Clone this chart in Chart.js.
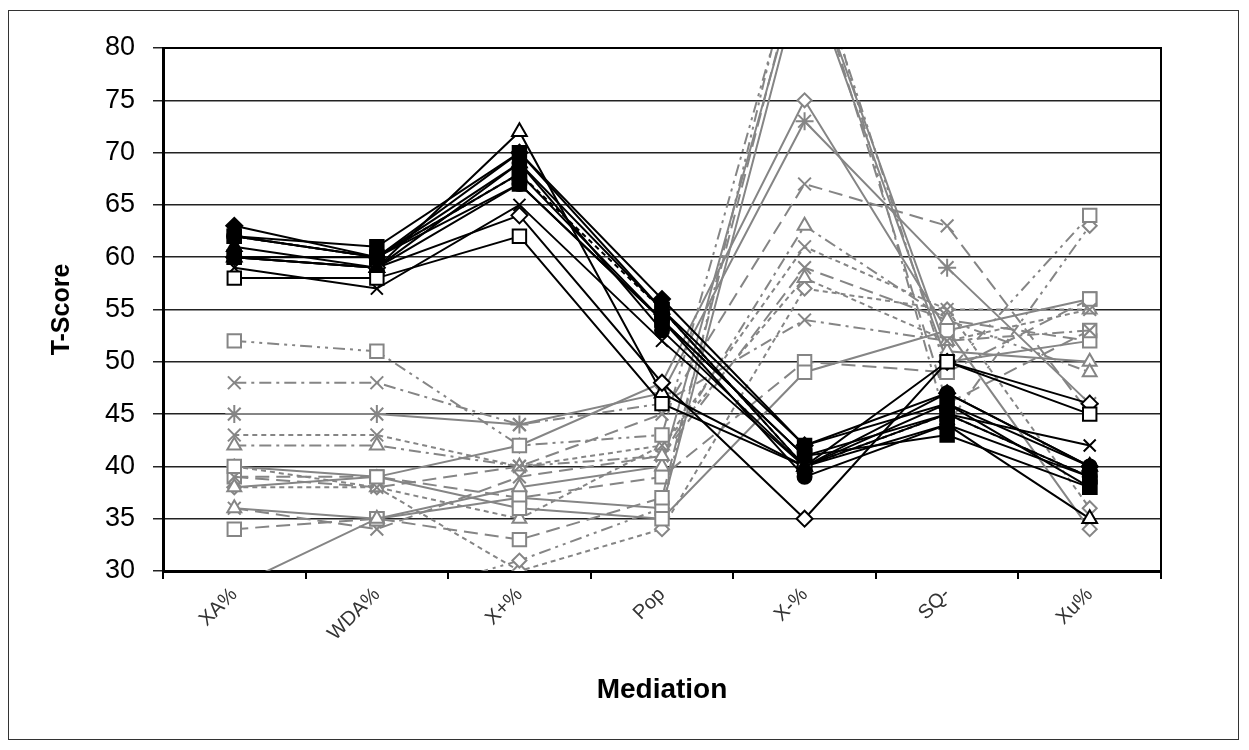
<!DOCTYPE html>
<html>
<head>
<meta charset="utf-8">
<script src="https://cdn.jsdelivr.net/npm/chart.js@4/dist/chart.umd.min.js"></script>
<style>
  body { margin: 0; background: #fff; }
  #wrap { width: 1249px; height: 750px; }
</style>
</head>
<body>
<div id="wrap"><canvas id="tChart" width="1249" height="750"></canvas></div>
<script>
const categories = ['XA%', 'WDA%', 'X+%', 'Pop', 'X-%', 'SQ-', 'Xu%'];
const yTicks = [30, 35, 40, 45, 50, 55, 60, 65, 70, 75, 80];

// black profiles
const b1 = [63, 60, 70, 56, 42, 47, 40];
const b2 = [62, 61, 70, 55, 42, 46, 38];
const b3 = [60, 60, 68, 54, 41, 45, 39];
const b4 = [61, 59, 69, 55, 40, 46, 40];
const b5 = [62, 60, 67, 54, 39, 44, 39];
const b6 = [58, 58, 62, 46, 40, 50, 45];
const b7 = [59, 57, 65, 52, 40, 45, 42];
const b8 = [60, 59, 64, 48, 35, 50, 46];
const b9 = [60, 59, 72, 47, 40, 44, 35];
const b10 = [62, 60, 68, 55, 40, 45, 39];
const b11 = [60, 59, 67, 54, 41, 43, 38];
const b12 = [62, 60, 69, 53, 40, 47, 40];

// grey profiles
const g1 = [52, 51, 42, 43, 91, 49, 64];
const g2 = [48, 48, 44, 46, 54, 52, 53];
const g3 = [45, 45, 44, 47, 73, 59, 46];
const g4 = [43, 43, 40, 42, 61, 55, 55];
const g5 = [42, 42, 40, 41, 63, 54, 49];
const g6 = [40, 39, 36, 35, 49, 53, 56];
const g7 = [39, 38, 40, 45, 67, 63, 45];
const g8 = [38, 38, 35, 42, 58, 52, 55];
const g9 = [36, 35, 38, 40, 89, 51, 50];
const g10 = [34, 35, 33, 37, 90, 46, 53];
const g11 = [28.5, 35, 37, 36, 88, 50, 52];
const g12 = [20, 27, 31, 36, 93, 44, 63];
const g13 = [40, 38, 30, 34, 57, 55, 36];
const g14 = [38, 39, 42, 48, 75, 53, 34];
const g15 = [39, 39, 37, 39, 50, 49, 56];
const g16 = [36, 34, 39, 41, 59, 54, 52];

const GREY = '#858585';
const dashes = {
  solid: [],
  short: [5, 4],
  long: [14, 7],
  dashDot: [12, 5, 3, 5],
  dashDotDot: [12, 5, 3, 5, 3, 5]
};

function blackSet(data, point, filled, dash) {
  return {
    data: data,
    borderColor: '#000',
    borderWidth: 2,
    borderDash: dashes[dash || 'solid'],
    pointStyle: point,
    pointRadius: point === 'rect' ? 9.5 : point === 'circle' ? 7 : point === 'rectRot' ? 8 : 8.5,
    pointBorderWidth: 2,
    pointBorderColor: '#000',
    pointBackgroundColor: filled ? '#000' : '#fff',
    tension: 0
  };
}

function greySet(data, point, dash) {
  return {
    data: data,
    borderColor: GREY,
    borderWidth: 2,
    borderDash: dashes[dash],
    pointStyle: point,
    pointRadius: point === 'rect' ? 9.5 : point === 'rectRot' ? 7 : point === 'triangle' ? 8 : 9,
    pointBorderWidth: 2,
    pointBorderColor: GREY,
    pointBackgroundColor: '#fff',
    tension: 0
  };
}

const datasets = [
  blackSet(b1, 'rectRot', true),
  blackSet(b2, 'rect', true),
  blackSet(b3, 'rect', true),
  blackSet(b4, 'triangle', true),
  blackSet(b5, 'circle', true),
  blackSet(b6, 'rect', false),
  blackSet(b7, 'crossRot', false),
  blackSet(b8, 'rectRot', false),
  blackSet(b9, 'triangle', false),
  blackSet(b10, 'rect', true, 'short'),
  blackSet(b11, 'rect', true),
  blackSet(b12, 'circle', true),
  greySet(g1, 'rect', 'dashDotDot'),
  greySet(g2, 'crossRot', 'dashDot'),
  greySet(g3, 'star', 'solid'),
  greySet(g4, 'crossRot', 'short'),
  greySet(g5, 'triangle', 'dashDot'),
  greySet(g6, 'rect', 'solid'),
  greySet(g7, 'crossRot', 'long'),
  greySet(g8, 'triangle', 'short'),
  greySet(g9, 'triangle', 'solid'),
  greySet(g10, 'rect', 'long'),
  greySet(g11, 'rect', 'solid'),
  greySet(g12, 'rectRot', 'dashDotDot'),
  greySet(g13, 'rectRot', 'short'),
  greySet(g14, 'rectRot', 'solid'),
  greySet(g15, 'rect', 'long'),
  greySet(g16, 'crossRot', 'long')
];

const frame = {
  id: 'frame',
  beforeDraw(chart) {
    const ctx = chart.ctx;
    ctx.save();
    ctx.fillStyle = '#fff';
    ctx.fillRect(0, 0, chart.width, chart.height);
    ctx.strokeStyle = '#333';
    ctx.lineWidth = 1;
    ctx.strokeRect(8.5, 10.5, 1230, 729);
    ctx.restore();
  },
  afterDatasetsDraw(chart) {
    const a = chart.chartArea;
    const ctx = chart.ctx;
    ctx.save();
    ctx.strokeStyle = '#000';
    ctx.lineWidth = 2;
    ctx.beginPath();
    ctx.moveTo(a.left, a.top);
    ctx.lineTo(a.right, a.top);
    ctx.lineTo(a.right, a.bottom);
    ctx.stroke();
    ctx.restore();
  }
};

new Chart(document.getElementById('tChart'), {
  type: 'line',
  data: { labels: categories, datasets: datasets },
  plugins: [frame],
  options: {
    responsive: false,
    animation: false,
    layout: { padding: { top: 48, right: 88, left: 0, bottom: 0 } },
    plugins: { legend: { display: false }, tooltip: { enabled: false } },
    scales: {
      x: {
        offset: true,
        afterFit(scale) { scale.height = 179; },
        grid: { offset: true, drawOnChartArea: false, drawTicks: true, tickLength: 8, color: '#000', lineWidth: 2 },
        border: { display: true, color: '#000', width: 3 },
        ticks: {
          minRotation: 45, maxRotation: 45, padding: 4,
          color: '#333',
          font: { family: 'Liberation Sans, Arial, sans-serif', size: 20 }
        },
        title: {
          display: true, text: 'Mediation', color: '#000',
          font: { family: 'Liberation Sans, Arial, sans-serif', size: 28, weight: 'bold' },
          padding: { top: 0, bottom: 43 }
        }
      },
      y: {
        min: 30, max: 80,
        afterFit(scale) { scale.width = 163; },
        afterBuildTicks(scale) { scale.ticks = yTicks.map(v => ({ value: v })); },
        grid: { color: '#222', lineWidth: 1.5, tickLength: 10, drawTicks: true },
        border: { display: true, color: '#000', width: 3 },
        ticks: {
          color: '#000', padding: 18,
          font: { family: 'Liberation Sans, Arial, sans-serif', size: 27 }
        },
        title: {
          display: true, text: 'T-Score', color: '#000',
          font: { family: 'Liberation Sans, Arial, sans-serif', size: 25, weight: 'bold' },
          padding: { top: 47, bottom: 0 }
        }
      }
    }
  }
});
</script>
</body>
</html>
